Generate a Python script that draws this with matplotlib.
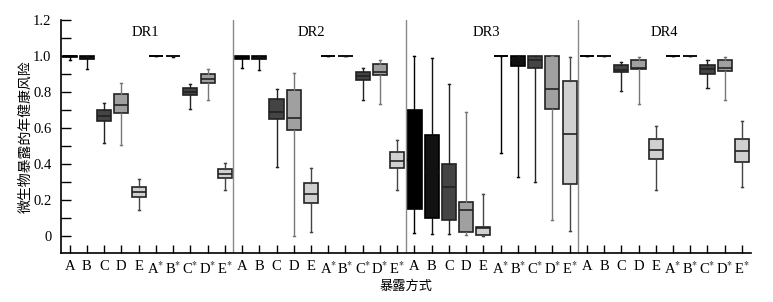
"""Annual health risk of microbial exposure by route, four DR panels."""
import matplotlib
matplotlib.use("Agg")
import matplotlib.pyplot as plt

plt.rcParams["font.family"] = ["Liberation Serif", "Noto Sans CJK SC"]
plt.rcParams["mathtext.fontset"] = "stix"

panels = ["DR1", "DR2", "DR3", "DR4"]
routes = ["A", "B", "C", "D", "E", "A*", "B*", "C*", "D*", "E*"]

# per panel, per route: whislo, q1, med, q3, whishi
dr1 = [(0.975, 0.995, 1.0, 1.0, 1.0), (0.925, 0.985, 0.99, 1.0, 1.0),
       (0.516, 0.639, 0.665, 0.702, 0.739), (0.505, 0.683, 0.728, 0.790, 0.851),
       (0.142, 0.214, 0.244, 0.274, 0.315), (1.0, 1.0, 1.0, 1.0, 1.0),
       (0.995, 0.998, 1.0, 1.0, 1.0), (0.708, 0.784, 0.800, 0.821, 0.845),
       (0.756, 0.849, 0.873, 0.901, 0.929), (0.253, 0.320, 0.346, 0.372, 0.408)]
dr2 = [(0.935, 0.985, 0.99, 1.0, 1.0), (0.922, 0.985, 0.99, 0.998, 1.0),
       (0.382, 0.650, 0.691, 0.762, 0.814), (0.002, 0.590, 0.655, 0.812, 0.903),
       (0.020, 0.181, 0.233, 0.296, 0.380), (1.0, 1.0, 1.0, 1.0, 1.0),
       (1.0, 1.0, 1.0, 1.0, 1.0), (0.756, 0.866, 0.888, 0.911, 0.931),
       (0.734, 0.896, 0.911, 0.957, 0.980), (0.253, 0.376, 0.419, 0.464, 0.531)]
dr3 = [(0.017, 0.149, 0.420, 0.698, 1.0), (0.010, 0.100, 0.354, 0.562, 0.989),
       (0.010, 0.086, 0.274, 0.402, 0.842), (0.004, 0.024, 0.147, 0.190, 0.691),
       (0.002, 0.006, 0.047, 0.052, 0.231), (0.460, 1.0, 1.0, 1.0, 1.0),
       (0.328, 0.942, 0.980, 1.0, 1.0), (0.300, 0.933, 0.980, 1.0, 1.0),
       (0.086, 0.706, 0.816, 1.0, 1.0), (0.030, 0.289, 0.566, 0.862, 0.996)]
dr4 = [(1.0, 1.0, 1.0, 1.0, 1.0), (1.0, 1.0, 1.0, 1.0, 1.0),
       (0.806, 0.912, 0.924, 0.952, 0.965), (0.734, 0.926, 0.933, 0.978, 0.994),
       (0.257, 0.426, 0.479, 0.536, 0.611), (1.0, 1.0, 1.0, 1.0, 1.0),
       (1.0, 1.0, 1.0, 1.0, 1.0), (0.823, 0.901, 0.926, 0.952, 0.976),
       (0.756, 0.918, 0.933, 0.980, 0.996), (0.272, 0.412, 0.473, 0.538, 0.637)]
all_data = [dr1, dr2, dr3, dr4]

fills = ["#000000", "#111111", "#444444", "#a0a0a0", "#d0d0d0"] * 2
whisk = ["#000000", "#111111", "#222222", "#777777", "#444444"] * 2
title_x = [4.4, 14.0, 24.2, 34.5]


def main():
    fig = plt.figure(figsize=(7.73, 3.02), dpi=100)
    ax = fig.add_axes([0.079, 0.162, 0.892, 0.772])

    stats, pos, fc, wc = [], [], [], []
    for p, data in enumerate(all_data):
        for i, (lo, q1, med, q3, hi) in enumerate(data):
            stats.append(dict(whislo=lo, q1=q1, med=med, q3=q3, whishi=hi))
            pos.append(p * 10 + i)
            fc.append(fills[i])
            wc.append(whisk[i])

    bp = ax.bxp(stats, positions=pos, widths=0.82, patch_artist=True,
                showfliers=False, capwidths=0.12,
                boxprops=dict(edgecolor="#222222", linewidth=1.2),
                medianprops=dict(color="#222222", linewidth=1.2),
                whiskerprops=dict(linewidth=1.0),
                capprops=dict(linewidth=1.0))
    for k, box in enumerate(bp["boxes"]):
        box.set_facecolor(fc[k])
        if fc[k] in ("#000000", "#111111"):
            box.set_edgecolor("#000000")
            bp["medians"][k].set_color(fc[k])
    for k in range(len(stats)):
        for ln in bp["whiskers"][2 * k:2 * k + 2] + bp["caps"][2 * k:2 * k + 2]:
            ln.set_color(wc[k])

    for b in (9.5, 19.5, 29.5):
        ax.axvline(b, color="#8a8a8a", linewidth=1.0)
    for x, name in zip(title_x, panels):
        ax.text(x, 1.13, name, ha="center", va="center", fontsize=10.5)

    labels = [r if "*" not in r else r[0] + r"$^{*}$" for r in routes] * 4
    ax.set_xticks(range(40))
    ax.set_xticklabels(labels, fontsize=10.5)
    ax.set_xlim(-0.5, 39.5)
    ax.set_ylim(-0.095, 1.2)
    ax.set_yticks([0, 0.2, 0.4, 0.6, 0.8, 1.0, 1.2])
    ax.set_yticklabels(["0", "0.2", "0.4", "0.6", "0.8", "1.0", "1.2"], fontsize=10.5)
    ax.set_yticks([0.1, 0.3, 0.5, 0.7, 0.9, 1.1], minor=True)
    ax.tick_params(axis="y", which="both", direction="in", length=7, width=1, pad=7)
    ax.tick_params(axis="x", direction="in", length=6, width=1, pad=5)

    for s in ("top", "right"):
        ax.spines[s].set_visible(False)
    for s in ("left", "bottom"):
        ax.spines[s].set_linewidth(1.2)

    ax.set_ylabel("微生物暴露的年健康风险", family=["Noto Sans CJK SC"], fontsize=10)
    ax.yaxis.set_label_coords(-0.041, 0.5)
    ax.set_xlabel("暴露方式", family=["Noto Sans CJK SC"], fontsize=9.5, labelpad=2)

    fig.savefig("out.png", dpi=100)


if __name__ == "__main__":
    main()
